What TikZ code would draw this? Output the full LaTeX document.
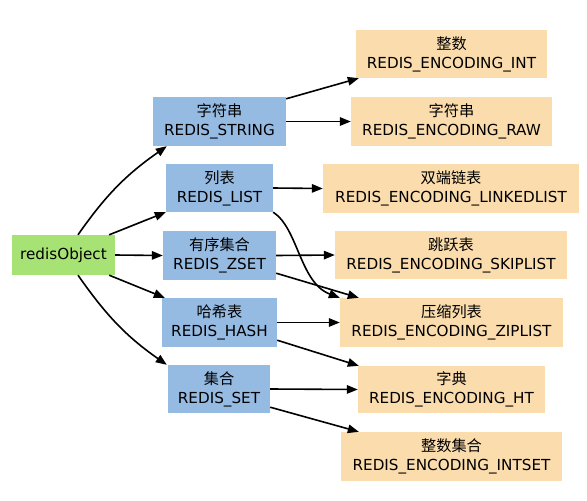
\documentclass[tikz,border=0pt]{standalone}
\usepackage{fontspec}
\setmainfont{DejaVu Sans}
\newfontfamily\cjk{Noto Sans CJK SC}
\usetikzlibrary{arrows.meta}
\definecolor{objgreen}{HTML}{A6E274}
\definecolor{typeblue}{HTML}{96BBE3}
\definecolor{encorange}{HTML}{FADCAD}
\begin{document}
\begin{tikzpicture}[x=1pt,y=-1pt,
  box/.style={inner sep=0pt,align=center,font=\fontsize{15.2}{19}\selectfont},
  objbox/.style={box,fill=objgreen},
  typebox/.style={box,fill=typeblue},
  encbox/.style={box,fill=encorange},
  arr/.style={line width=1.6pt,-{Triangle[length=11pt,width=8.5pt]}}]
\useasboundingbox (0,0) rectangle (587,501);
% object
\node[objbox,minimum width=103pt,minimum height=40pt] (obj) at (63.5,255) {redisObject};
% types
\node[typebox,minimum width=133pt,minimum height=49pt] (str) at (219.5,121.5) {{\cjk 字符串}\\REDIS\_STRING};
\node[typebox,minimum width=107pt,minimum height=48pt] (list) at (219.5,188) {{\cjk 列表}\\REDIS\_LIST};
\node[typebox,minimum width=113pt,minimum height=49pt] (zset) at (219.5,255.5) {{\cjk 有序集合}\\REDIS\_ZSET};
\node[typebox,minimum width=115pt,minimum height=49pt] (hash) at (219.5,322.5) {{\cjk 哈希表}\\REDIS\_HASH};
\node[typebox,minimum width=102pt,minimum height=48pt] (set) at (219,389) {{\cjk 集合}\\REDIS\_SET};
% encodings
\node[encbox,minimum width=191pt,minimum height=48pt] (int) at (451.5,54) {{\cjk 整数}\\REDIS\_ENCODING\_INT};
\node[encbox,minimum width=201pt,minimum height=49pt] (raw) at (451.5,121.5) {{\cjk 字符串}\\REDIS\_ENCODING\_RAW};
\node[encbox,minimum width=256pt,minimum height=49pt] (lnk) at (451,188.5) {{\cjk 双端链表}\\REDIS\_ENCODING\_LINKEDLIST};
\node[encbox,minimum width=232pt,minimum height=48pt] (skip) at (451,255) {{\cjk 跳跃表}\\REDIS\_ENCODING\_SKIPLIST};
\node[encbox,minimum width=223pt,minimum height=49pt] (zip) at (451.5,322.5) {{\cjk 压缩列表}\\REDIS\_ENCODING\_ZIPLIST};
\node[encbox,minimum width=187pt,minimum height=47pt] (ht) at (451.5,389.5) {{\cjk 字典}\\REDIS\_ENCODING\_HT};
\node[encbox,minimum width=221pt,minimum height=49pt] (iset) at (451.5,456.5) {{\cjk 整数集合}\\REDIS\_ENCODING\_INTSET};
% object -> types
\draw[arr] ([xshift=14.5pt]obj.north) to[out=55,in=215] ([xshift=14pt]str.south west);
\draw[arr] ([xshift=-6pt]obj.north east) -- (list.south west);
\draw[arr] (obj.east) -- (zset.west);
\draw[arr] ([xshift=-6pt]obj.south east) -- ([xshift=3pt]hash.north west);
\draw[arr] ([xshift=14.5pt]obj.south) to[out=-55,in=145] ([xshift=-1pt]set.north west);
% types -> encodings
\draw[arr] ([yshift=-2pt]str.north east) -- ([xshift=3pt]int.south west);
\draw[arr] (str.east) -- (raw.west);
\draw[arr] (list.east) -- (lnk.west);
\draw[arr] (list.south east) .. controls +(25,16) and +(-40,-15) .. (zip.north west);
\draw[arr] (zset.east) -- (skip.west);
\draw[arr] ([yshift=7pt]zset.south east) -- ([xshift=19pt]zip.north west);
\draw[arr] (hash.east) -- (zip.west);
\draw[arr] ([yshift=7pt]hash.south east) -- ([xshift=1pt]ht.north west);
\draw[arr] (set.east) -- (ht.west);
\draw[arr] ([yshift=6pt]set.south east) -- ([xshift=18pt]iset.north west);
\end{tikzpicture}
\end{document}
